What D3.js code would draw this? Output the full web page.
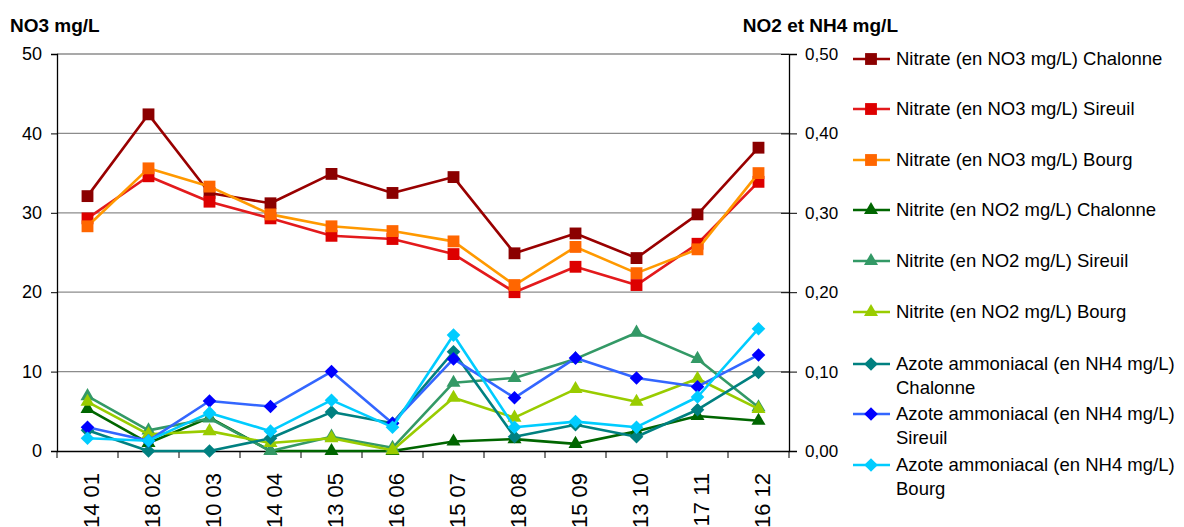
<!DOCTYPE html>
<html>
<head>
<meta charset="utf-8">
<script src="https://cdn.jsdelivr.net/npm/d3@7"></script>
<style>
  body { margin: 0; background: #fff; }
  svg { font-family: "Liberation Sans", Arial, sans-serif; }
</style>
</head>
<body>
<div id="chart"></div>
<script>
// catégories (jour mois)
const categories = ["14 01", "18 02", "10 03", "14 04", "13 05", "16 06", "15 07", "18 08", "15 09", "13 10", "17 11", "16 12"];

// nitrates, axe de gauche (mg/L)
const no3Chalonne = [32.1, 42.4, 32.5, 31.2, 34.9, 32.5, 34.5, 24.9, 27.4, 24.3, 29.8, 38.2];
const no3Sireuil  = [29.3, 34.6, 31.4, 29.3, 27.1, 26.7, 24.8, 20.0, 23.2, 20.9, 26.1, 33.9];
const no3Bourg    = [28.3, 35.6, 33.3, 29.8, 28.3, 27.7, 26.4, 20.9, 25.7, 22.4, 25.4, 35.0];

// nitrites, axe de droite
const no2Chalonne = [0.053, 0.010, 0.042, 0.000, 0.000, 0.000, 0.012, 0.015, 0.009, 0.025, 0.044, 0.038];
const no2Sireuil  = [0.069, 0.026, 0.041, 0.000, 0.018, 0.004, 0.086, 0.092, 0.116, 0.149, 0.116, 0.055];
const no2Bourg    = [0.062, 0.021, 0.025, 0.010, 0.016, 0.001, 0.067, 0.042, 0.078, 0.062, 0.091, 0.053];

// azote ammoniacal, axe de droite
const nh4Chalonne = [0.026, 0.000, 0.000, 0.016, 0.049, 0.035, 0.125, 0.018, 0.033, 0.018, 0.052, 0.099];
const nh4Sireuil  = [0.030, 0.013, 0.063, 0.056, 0.100, 0.035, 0.116, 0.067, 0.117, 0.092, 0.081, 0.121];
const nh4Bourg    = [0.016, 0.013, 0.048, 0.025, 0.064, 0.030, 0.146, 0.030, 0.037, 0.030, 0.068, 0.154];

const leftTicks = [0, 10, 20, 30, 40, 50];
const rightTicks = [0, 0.1, 0.2, 0.3, 0.4, 0.5];

const series = [
  { name: ["Nitrate (en NO3 mg/L) Chalonne"], values: no3Chalonne, axis: "left", shape: "square", line: "#990000", fill: "#8b0000" },
  { name: ["Nitrate (en NO3 mg/L) Sireuil"], values: no3Sireuil, axis: "left", shape: "square", line: "#e31a1c", fill: "#dd0000" },
  { name: ["Nitrate (en NO3 mg/L) Bourg"], values: no3Bourg, axis: "left", shape: "square", line: "#ff9900", fill: "#ff6600" },
  { name: ["Nitrite (en NO2 mg/L) Chalonne"], values: no2Chalonne, axis: "right", shape: "triangle", line: "#006600", fill: "#006600" },
  { name: ["Nitrite (en NO2 mg/L) Sireuil"], values: no2Sireuil, axis: "right", shape: "triangle", line: "#339966", fill: "#339966" },
  { name: ["Nitrite (en NO2 mg/L) Bourg"], values: no2Bourg, axis: "right", shape: "triangle", line: "#99cc00", fill: "#99cc00" },
  { name: ["Azote ammoniacal (en NH4 mg/L)", "Chalonne"], values: nh4Chalonne, axis: "right", shape: "diamond", line: "#008080", fill: "#008080" },
  { name: ["Azote ammoniacal (en NH4 mg/L)", "Sireuil"], values: nh4Sireuil, axis: "right", shape: "diamond", line: "#3366ff", fill: "#0000ff" },
  { name: ["Azote ammoniacal (en NH4 mg/L)", "Bourg"], values: nh4Bourg, axis: "right", shape: "diamond", line: "#00ccff", fill: "#00ccff" }
];

const W = 1184, H = 527;
const margin = { top: 54, right: 395, bottom: 76, left: 57 };
const width = W - margin.left - margin.right;
const height = H - margin.top - margin.bottom;

const svg = d3.select("#chart").append("svg")
  .attr("width", W).attr("height", H);

const g = svg.append("g").attr("transform", `translate(${margin.left},${margin.top})`);

const x = d3.scaleBand().domain(categories).range([0, width]);
const yL = d3.scaleLinear().domain([0, 50]).range([height, 0]);
const yR = d3.scaleLinear().domain([0, 0.5]).range([height, 0]);

// grille
g.append("g").selectAll("line")
  .data(leftTicks.filter(d => d > 0))
  .join("line")
  .attr("x1", 0).attr("x2", width)
  .attr("y1", d => yL(d)).attr("y2", d => yL(d))
  .attr("stroke", "#8c8c8c").attr("stroke-width", 1.3);

// axe gauche
const axL = g.append("g")
  .call(d3.axisLeft(yL).tickValues(leftTicks).tickSize(6).tickPadding(9).tickFormat(d3.format("d")));
axL.select(".domain").attr("stroke", "#000").attr("stroke-width", 1.3);
axL.selectAll(".tick line").attr("stroke", "#000");
axL.selectAll("text").attr("font-size", 18).attr("fill", "#000").attr("font-family", "Liberation Sans, Arial, sans-serif");

// axe droit (ticks qui traversent)
const axR = g.append("g").attr("transform", `translate(${width},0)`)
  .call(d3.axisRight(yR).tickValues(rightTicks).tickSize(8).tickPadding(8).tickFormat(d => d3.format(".2f")(d).replace(".", ",")));
axR.select(".domain").attr("stroke", "#000").attr("stroke-width", 1.3);
axR.selectAll(".tick line").attr("stroke", "#000").attr("x1", -8);
axR.selectAll("text").attr("font-size", 17).attr("fill", "#000").attr("font-family", "Liberation Sans, Arial, sans-serif");

// axe x
const axX = g.append("g").attr("transform", `translate(0,${height})`)
  .call(d3.axisBottom(x).tickSize(0).tickFormat(""));
axX.select(".domain").attr("stroke", "#000").attr("stroke-width", 1.3);
const edges = d3.range(categories.length + 1).map(i => i * x.step());
axX.selectAll(".edge").data(edges).join("line")
  .attr("x1", d => d).attr("x2", d => d)
  .attr("y1", 0).attr("y2", 7)
  .attr("stroke", "#000");
axX.selectAll(".lbl").data(categories).join("text")
  .attr("transform", d => `translate(${x(d) + x.bandwidth() / 2 + 4},22) rotate(-90)`)
  .attr("dy", "0.35em")
  .attr("text-anchor", "end")
  .attr("font-size", 22)
  .attr("fill", "#000")
  .text(d => d);

// titres des axes
svg.append("text").attr("x", 10).attr("y", 32)
  .attr("font-size", 19).attr("font-weight", "bold").text("NO3 mg/L");
svg.append("text").attr("x", 898).attr("y", 32).attr("text-anchor", "end")
  .attr("font-size", 19).attr("font-weight", "bold").text("NO2 et NH4 mg/L");

const symbolFor = shape => {
  if (shape === "square") return d3.symbol(d3.symbolSquare, 140)();
  if (shape === "triangle") return d3.symbol(d3.symbolTriangle, 85)();
  return "M0,-6.8L6.8,0L0,6.8L-6.8,0Z";
};

// courbes
series.forEach(s => {
  const yS = s.axis === "left" ? yL : yR;
  const line = d3.line()
    .x((d, i) => x(categories[i]) + x.bandwidth() / 2)
    .y(d => yS(d));
  g.append("path").datum(s.values)
    .attr("fill", "none")
    .attr("stroke", s.line)
    .attr("stroke-width", 2.6)
    .attr("stroke-linejoin", "round")
    .attr("d", line);
  g.append("g").selectAll("path")
    .data(s.values)
    .join("path")
    .attr("transform", (d, i) => `translate(${x(categories[i]) + x.bandwidth() / 2},${yS(d)})`)
    .attr("d", symbolFor(s.shape))
    .attr("fill", s.fill);
});

// légende
const legendY = [59, 109, 160, 210, 261, 312, 364, 414, 465];
const legend = svg.append("g");
series.forEach((s, i) => {
  const row = legend.append("g").attr("transform", `translate(0,${legendY[i]})`);
  row.append("line").attr("x1", 853).attr("x2", 890).attr("y1", 0).attr("y2", 0)
    .attr("stroke", s.line).attr("stroke-width", 2.6);
  row.append("path").attr("transform", "translate(871,0)")
    .attr("d", symbolFor(s.shape)).attr("fill", s.fill);
  s.name.forEach((t, j) => {
    row.append("text").attr("x", 896).attr("y", j * 23.5).attr("dy", "0.35em")
      .attr("font-size", 18.5).attr("fill", "#000").text(t);
  });
});
</script>
</body>
</html>
